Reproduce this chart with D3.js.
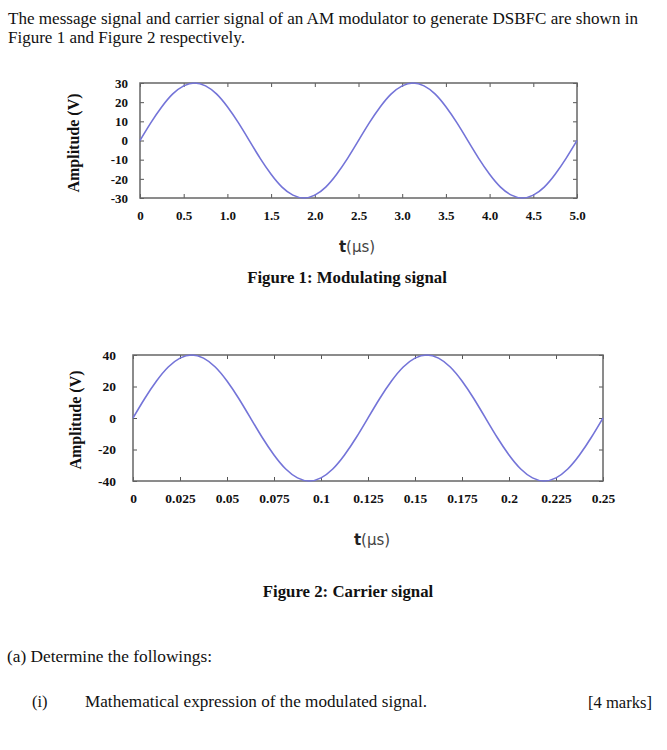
<!DOCTYPE html>
<html>
<head>
<meta charset="utf-8">
<script src="https://cdn.jsdelivr.net/npm/d3@7"></script>
<style>
  html, body { margin: 0; padding: 0; background: #fff; }
  svg { display: block; }
</style>
</head>
<body>
<script>
// ---------- DATA ----------
// Figure 1: modulating signal (t in µs, amplitude in V)
const msgTime = [0,0.125,0.25,0.375,0.5,0.625,0.75,0.875,1.0,1.125,1.25,1.375,1.5,1.625,1.75,1.875,2.0,2.125,2.25,2.375,2.5,
                 2.625,2.75,2.875,3.0,3.125,3.25,3.375,3.5,3.625,3.75,3.875,4.0,4.125,4.25,4.375,4.5,4.625,4.75,4.875,5.0];
const msgAmp  = [0,9.3,17.6,24.3,28.5,30,28.5,24.3,17.6,9.3,0,-9.3,-17.6,-24.3,-28.5,-30,-28.5,-24.3,-17.6,-9.3,0,
                 9.3,17.6,24.3,28.5,30,28.5,24.3,17.6,9.3,0,-9.3,-17.6,-24.3,-28.5,-30,-28.5,-24.3,-17.6,-9.3,0];
const msgXTicks = [0,0.5,1.0,1.5,2.0,2.5,3.0,3.5,4.0,4.5,5.0];
const msgXLabels = ["0","0.5","1.0","1.5","2.0","2.5","3.0","3.5","4.0","4.5","5.0"];
const msgYTicks = [30,20,10,0,-10,-20,-30];
const msgYLabels = ["30","20","10","0","-10","-20","-30"];

// Figure 2: carrier signal
const carTime = [0,0.00625,0.0125,0.01875,0.025,0.03125,0.0375,0.04375,0.05,0.05625,0.0625,0.06875,0.075,0.08125,0.0875,0.09375,0.1,0.10625,0.1125,0.11875,0.125,
                 0.13125,0.1375,0.14375,0.15,0.15625,0.1625,0.16875,0.175,0.18125,0.1875,0.19375,0.2,0.20625,0.2125,0.21875,0.225,0.23125,0.2375,0.24375,0.25];
const carAmp  = [0,12.4,23.5,32.4,38.0,40,38.0,32.4,23.5,12.4,0,-12.4,-23.5,-32.4,-38.0,-40,-38.0,-32.4,-23.5,-12.4,0,
                 12.4,23.5,32.4,38.0,40,38.0,32.4,23.5,12.4,0,-12.4,-23.5,-32.4,-38.0,-40,-38.0,-32.4,-23.5,-12.4,0];
const carXTicks = [0,0.025,0.05,0.075,0.1,0.125,0.15,0.175,0.2,0.225,0.25];
const carXLabels = ["0","0.025","0.05","0.075","0.1","0.125","0.15","0.175","0.2","0.225","0.25"];
const carYTicks = [40,20,0,-20,-40];
const carYLabels = ["40","20","0","-20","-40"];

// ---------- DRAW ----------
const W = 667, H = 750;
const svg = d3.select("body").append("svg").attr("width", W).attr("height", H);
svg.append("rect").attr("width", W).attr("height", H).attr("fill", "#fff");

const serif = "'Liberation Serif','Times New Roman',Times,serif";
const sans = "'DejaVu Sans',sans-serif";

function bodyText(x, y, str, len) {
  const t = svg.append("text").attr("x", x).attr("y", y)
    .attr("font-family", serif).attr("font-size", 16.5).attr("fill", "#111").text(str);
  if (len) t.attr("textLength", len).attr("lengthAdjust", "spacingAndGlyphs");
  return t;
}

bodyText(8, 24, "The message signal and carrier signal of an AM modulator to generate DSBFC are shown in", 630);
bodyText(8, 43, "Figure 1 and Figure 2 respectively.", 237);

function plot(cfg) {
  const x = d3.scaleLinear().domain(cfg.xDomain).range([cfg.left, cfg.right]);
  const y = d3.scaleLinear().domain(cfg.yDomain).range([cfg.bottom, cfg.top]);
  const g = svg.append("g");
  const tickCol = "#555";

  const bx = g.append("g").attr("transform", `translate(0,${cfg.bottom})`)
    .call(d3.axisBottom(x).tickValues(cfg.xTicks).tickFormat((d, i) => cfg.xLabels[i])
      .tickSizeInner(-4).tickSizeOuter(0).tickPadding(cfg.xPad));
  const tx = g.append("g").attr("transform", `translate(0,${cfg.top})`)
    .call(d3.axisTop(x).tickValues(cfg.xTicks).tickFormat("").tickSizeInner(-4).tickSizeOuter(0));
  const ly = g.append("g").attr("transform", `translate(${cfg.left},0)`)
    .call(d3.axisLeft(y).tickValues(cfg.yTicks).tickFormat((d, i) => cfg.yLabels[i])
      .tickSizeInner(-4).tickSizeOuter(0).tickPadding(cfg.yPad));
  const ry = g.append("g").attr("transform", `translate(${cfg.right},0)`)
    .call(d3.axisRight(y).tickValues(cfg.yTicks).tickFormat("").tickSizeInner(-4).tickSizeOuter(0));

  [bx, tx, ly, ry].forEach(a => {
    a.select(".domain").remove();
    a.selectAll(".tick line").attr("stroke", tickCol).attr("stroke-width", 1);
    a.selectAll("text").attr("font-family", serif).attr("font-weight", "bold")
      .attr("font-size", cfg.tickFont).attr("fill", "#111");
  });

  g.append("rect").attr("x", cfg.left).attr("y", cfg.top)
    .attr("width", cfg.right - cfg.left).attr("height", cfg.bottom - cfg.top)
    .attr("fill", "none").attr("stroke", "#666").attr("stroke-width", 1.5);

  const line = d3.line().x((d, i) => x(cfg.t[i])).y(d => y(d)).curve(d3.curveNatural);
  g.append("path").datum(cfg.v).attr("d", line)
    .attr("fill", "none").attr("stroke", "#7474d8").attr("stroke-width", 1.6);

  g.append("text")
    .attr("transform", `translate(${cfg.yTitleX},${cfg.yTitleY}) rotate(-90)`)
    .attr("text-anchor", "middle").attr("font-family", serif).attr("font-weight", "bold")
    .attr("font-size", 16).attr("fill", "#111").text("Amplitude (V)");

  const xt = g.append("text").attr("x", cfg.xTitleX).attr("y", cfg.xTitleY)
    .attr("text-anchor", "middle").attr("font-family", sans).attr("font-size", 15).attr("fill", "#222");
  xt.append("tspan").attr("font-weight", "bold").text("t");
  xt.append("tspan").attr("fill", "#444").text("(µs)");

  g.append("text").attr("x", cfg.capX).attr("y", cfg.capY).attr("text-anchor", "middle")
    .attr("font-family", serif).attr("font-weight", "bold").attr("font-size", 16.8)
    .attr("fill", "#111").text(cfg.caption);
}

plot({
  xDomain: [0, 5], yDomain: [-30, 30],
  left: 140, right: 577, top: 83, bottom: 198,
  xTicks: msgXTicks, xLabels: msgXLabels, yTicks: msgYTicks, yLabels: msgYLabels,
  t: msgTime, v: msgAmp,
  xPad: 13, yPad: 12, tickFont: 13,
  yTitleX: 79, yTitleY: 143,
  xTitleX: 357, xTitleY: 252,
  capX: 347, capY: 283, caption: "Figure 1: Modulating signal"
});

plot({
  xDomain: [0, 0.25], yDomain: [-40, 40],
  left: 133, right: 603, top: 355, bottom: 481,
  xTicks: carXTicks, xLabels: carXLabels, yTicks: carYTicks, yLabels: carYLabels,
  t: carTime, v: carAmp,
  xPad: 12, yPad: 17, tickFont: 13.5,
  yTitleX: 81, yTitleY: 420,
  xTitleX: 372, xTitleY: 545,
  capX: 348, capY: 597, caption: "Figure 2: Carrier signal"
});

bodyText(7, 662, "(a) Determine the followings:", 205);
bodyText(32, 707, "(i)");
bodyText(85, 707, "Mathematical expression of the modulated signal.", 342);
bodyText(588, 708, "[4 marks]", 64);
</script>
</body>
</html>
